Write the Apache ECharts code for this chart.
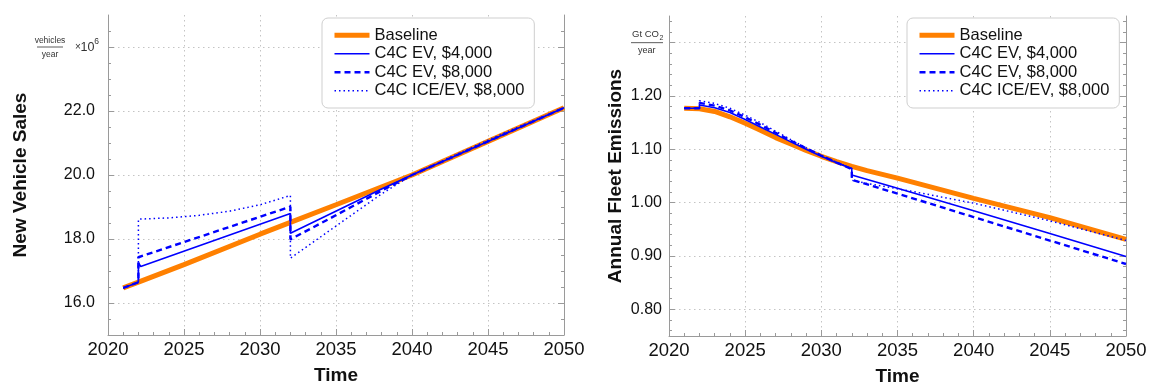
<!DOCTYPE html>
<html>
<head>
<meta charset="utf-8">
<script src="https://cdn.jsdelivr.net/npm/echarts@6/dist/echarts.min.js"></script>
<style>
  html, body { margin: 0; padding: 0; background: #ffffff; }
  #chart { width: 1149px; height: 384px; }
</style>
</head>
<body>
<div id="chart"></div>
<script>
// ---------- data ----------
const seriesNames = ['Baseline', 'C4C EV, $4,000', 'C4C EV, $8,000', 'C4C ICE/EV, $8,000'];

// Time axis
const yearMin = 2020, yearMax = 2050, yearStep = 5;

// New vehicle sales, millions of vehicles per year
const salesBaselineYears = [2021, 2022, 2025, 2030, 2032, 2035, 2040, 2045, 2050];
const salesBaseline      = [16.47, 16.65, 17.20, 18.15, 18.52, 19.07, 20.00, 21.05, 22.10];

const salesEv4Years = [2021, 2022, 2022, 2022.15, 2032, 2032, 2034, 2036, 2038, 2040, 2045, 2050];
const salesEv4      = [16.47, 16.65, 17.26, 17.14, 18.80, 18.18, 18.64, 19.10, 19.56, 20.00, 21.05, 22.10];

const salesEv8Years = [2021, 2022, 2022, 2032, 2032, 2034, 2036, 2038, 2040, 2045, 2050];
const salesEv8      = [16.47, 16.65, 17.43, 19.01, 17.99, 18.49, 19.00, 19.51, 20.00, 21.05, 22.10];

const salesIceEvYears = [2021, 2022, 2022, 2024, 2026, 2028, 2030, 2032, 2032, 2034, 2036, 2038, 2040, 2043, 2046, 2050];
const salesIceEv      = [16.47, 16.65, 18.62, 18.66, 18.74, 18.87, 19.07, 19.36, 17.40, 18.07, 18.74, 19.41, 20.00, 20.66, 21.30, 22.10];

const salesMin = 15, salesMax = 25;
const salesMajorTicks = [16, 18, 20, 22, 24];
const salesTickLabels = [16, 18, 20, 22];
const salesUnitAt = 24;

// Annual fleet emissions, Gt CO2 per year
const emisBaselineYears = [2021, 2022, 2023, 2024, 2025, 2026, 2027, 2028, 2029, 2030, 2031, 2032, 2033, 2035, 2040, 2045, 2050];
const emisBaseline      = [1.177, 1.176, 1.171, 1.161, 1.149, 1.136, 1.122, 1.110, 1.098, 1.087, 1.077, 1.068, 1.060, 1.046, 1.008, 0.972, 0.931];

const emisEv4Years = [2021, 2022, 2022, 2023, 2024, 2025, 2026, 2027, 2028, 2029, 2030, 2031, 2032, 2032, 2035, 2040, 2045, 2050];
const emisEv4      = [1.177, 1.177, 1.183, 1.178, 1.169, 1.156, 1.142, 1.128, 1.114, 1.100, 1.087, 1.075, 1.064, 1.052, 1.027, 0.985, 0.942, 0.899];

const emisEv8Years = [2021, 2022, 2022, 2023, 2024, 2025, 2026, 2027, 2028, 2029, 2030, 2031, 2032, 2032, 2035, 2040, 2045, 2050];
const emisEv8      = [1.177, 1.177, 1.187, 1.182, 1.173, 1.160, 1.146, 1.131, 1.116, 1.102, 1.088, 1.075, 1.063, 1.043, 1.017, 0.973, 0.929, 0.885];

const emisIceEvYears = [2021, 2022, 2022, 2023, 2024, 2025, 2026, 2027, 2028, 2029, 2030, 2031, 2032, 2032, 2033, 2034, 2035, 2036, 2038, 2040, 2045, 2050];
const emisIceEv      = [1.177, 1.177, 1.191, 1.186, 1.177, 1.164, 1.150, 1.134, 1.118, 1.103, 1.089, 1.076, 1.064, 1.042, 1.036, 1.031, 1.026, 1.021, 1.010, 0.999, 0.966, 0.929];

const emisMin = 0.75, emisMax = 1.35;
const emisMajorTicks = [0.8, 0.9, 1.0, 1.1, 1.2, 1.3];
const emisTickLabels = [0.8, 0.9, 1.0, 1.1, 1.2];
const emisUnitAt = 1.3;

// ---------- helpers ----------
const FONT = '"Liberation Sans", Arial, Helvetica, sans-serif';
const AXIS_COLOR = '#9a9a9a';
const TEXT_COLOR = '#111111';
const GRID_COLOR = '#c4c4c4';
const ORANGE = '#ff8000';
const BLUE = '#0000ff';

const pairs = (xs, ys) => xs.map((x, i) => [x, ys[i]]);
const steps = (from, to, step, digits) => {
  const out = [];
  for (let v = from; v <= to + step / 2; v += step) out.push(+v.toFixed(digits));
  return out;
};
const salesMinorTicks = steps(salesMin + 0.5, salesMax - 0.5, 0.5, 1);
const emisMinorTicks = steps(0.76, 1.34, 0.02, 2);

function xAxisFor(gridIndex) {
  return {
    type: 'value', gridIndex, min: yearMin, max: yearMax, interval: yearStep,
    axisLine: { show: true, onZero: false, lineStyle: { color: AXIS_COLOR, width: 1 } },
    axisTick: { show: true, inside: true, length: 6, lineStyle: { color: AXIS_COLOR } },
    minorTick: { show: true, splitNumber: 5, length: 3, lineStyle: { color: AXIS_COLOR } },
    axisLabel: { fontFamily: FONT, fontSize: 18.5, color: TEXT_COLOR, margin: 5, formatter: v => String(v) },
    splitLine: { show: true, lineStyle: { color: GRID_COLOR, type: [1.5, 3.5], width: 1 } },
    name: 'Time', nameLocation: 'middle', nameGap: 31,
    nameTextStyle: { fontFamily: FONT, fontSize: 19, fontWeight: 'bold', color: TEXT_COLOR }
  };
}

// four overlaid value axes per panel: labelled left axis, major ticks + grid,
// and the mirrored frame on the right side
function yAxesFor(gridIndex, min, max, interval, minor, major, labels, digits, name, nameGap, labelMargin) {
  const base = { type: 'value', gridIndex, min, max, interval, axisLabel: { show: false }, splitLine: { show: false } };
  return [
    Object.assign({}, base, {
      position: 'left',
      axisLine: { show: true, onZero: false, lineStyle: { color: AXIS_COLOR, width: 1 } },
      axisTick: { show: true, inside: true, length: 3, customValues: minor, lineStyle: { color: AXIS_COLOR } },
      axisLabel: {
        show: true, customValues: labels, formatter: v => Number(v).toFixed(digits),
        fontFamily: FONT, fontSize: 16, color: TEXT_COLOR, margin: labelMargin
      },
      name, nameLocation: 'middle', nameRotate: 90, nameGap,
      nameTextStyle: { fontFamily: FONT, fontSize: 19, fontWeight: 'bold', color: TEXT_COLOR }
    }),
    Object.assign({}, base, {
      position: 'left',
      axisLine: { show: false, onZero: false },
      axisTick: { show: true, inside: true, length: 6, customValues: major, lineStyle: { color: AXIS_COLOR } },
      splitLine: { show: true, lineStyle: { color: GRID_COLOR, type: [1.5, 3.5], width: 1 } }
    }),
    Object.assign({}, base, {
      position: 'right',
      axisLine: { show: true, onZero: false, lineStyle: { color: AXIS_COLOR, width: 1 } },
      axisTick: { show: true, inside: true, length: 3, customValues: minor, lineStyle: { color: AXIS_COLOR } }
    }),
    Object.assign({}, base, {
      position: 'right',
      axisLine: { show: false, onZero: false },
      axisTick: { show: true, inside: true, length: 6, customValues: major, lineStyle: { color: AXIS_COLOR } }
    })
  ];
}

const lineStyles = [
  { color: ORANGE, width: 5, type: 'solid' },
  { color: BLUE, width: 1.6, type: 'solid' },
  { color: BLUE, width: 2.4, type: [6, 4] },
  { color: BLUE, width: 1.5, type: [1.5, 3] }
];

function seriesFor(xAxisIndex, yAxisIndex, dataSets) {
  return dataSets.map((d, i) => ({
    name: seriesNames[i], type: 'line', xAxisIndex, yAxisIndex,
    data: d, symbol: 'none', showSymbol: false, smooth: false,
    lineStyle: lineStyles[i], itemStyle: { color: lineStyles[i].color },
    emphasis: { disabled: true }, animation: false
  }));
}

function legendAt(left) {
  return {
    orient: 'vertical', left, top: 18,
    data: seriesNames.map((name, i) => ({
      name,
      lineStyle: { color: lineStyles[i].color, width: lineStyles[i].width, type: lineStyles[i].type }
    })),
    itemWidth: 35, itemHeight: 12, itemGap: 0,
    padding: [8, 10, 8, 10],
    backgroundColor: '#ffffff', borderColor: '#cfcfcf', borderWidth: 1, borderRadius: 6,
    // line-only keys, no marker in the middle
    itemStyle: { color: 'transparent', borderWidth: 0, opacity: 0 },
    textStyle: { fontFamily: FONT, fontSize: 16.5, color: TEXT_COLOR, lineHeight: 18.5 },
    selectedMode: false
  };
}

// ---------- chart ----------
const chart = echarts.init(document.getElementById('chart'), null, { renderer: 'canvas' });

chart.setOption({
  animation: false,
  backgroundColor: '#ffffff',
  grid: [
    { left: 108, top: 15, width: 456, height: 320, containLabel: false, outerBoundsMode: 'none' },
    { left: 669, top: 16, width: 457, height: 320, containLabel: false, outerBoundsMode: 'none' }
  ],
  legend: [legendAt(322), legendAt(907)],
  xAxis: [xAxisFor(0), xAxisFor(1)],
  yAxis: [].concat(
    yAxesFor(0, salesMin, salesMax, 1, salesMinorTicks, salesMajorTicks, salesTickLabels, 1, 'New Vehicle Sales', 78, 13),
    yAxesFor(1, emisMin, emisMax, 0.05, emisMinorTicks, emisMajorTicks, emisTickLabels, 2, 'Annual Fleet Emissions', 44, 7)
  ),
  series: [].concat(
    seriesFor(0, 0, [
      pairs(salesBaselineYears, salesBaseline),
      pairs(salesEv4Years, salesEv4),
      pairs(salesEv8Years, salesEv8),
      pairs(salesIceEvYears, salesIceEv)
    ]),
    seriesFor(1, 4, [
      pairs(emisBaselineYears, emisBaseline),
      pairs(emisEv4Years, emisEv4),
      pairs(emisEv8Years, emisEv8),
      pairs(emisIceEvYears, emisIceEv)
    ])
  )
});

// unit labels placed at the top gridline of each panel
const unitColor = '#333333';
const [sx, sy] = chart.convertToPixel({ xAxisIndex: 0, yAxisIndex: 0 }, [yearMin, salesUnitAt]);
const [ex, ey] = chart.convertToPixel({ xAxisIndex: 1, yAxisIndex: 4 }, [yearMin, emisUnitAt]);
const txt = (x, y, text, size, align) => ({
  type: 'text', x, y, silent: true,
  style: { text, fontFamily: FONT, fontSize: size, fill: unitColor, align: align || 'center', verticalAlign: 'middle' }
});
const rule = (x1, x2, y) => ({
  type: 'line', silent: true, shape: { x1, y1: y, x2, y2: y },
  style: { stroke: unitColor, lineWidth: 0.8 }
});

chart.setOption({
  graphic: [
    txt(sx - 58, sy - 6.5, 'vehicles', 8.5),
    rule(sx - 71, sx - 45, sy),
    txt(sx - 58, sy + 7.5, 'year', 8.5),
    txt(sx - 30, sy + 0.5, '\u00d7', 10),
    txt(sx - 20.5, sy + 0.5, '10', 12.5),
    txt(sx - 11.5, sy - 5.5, '6', 8.5),

    txt(ex - 10, ey - 8, 'Gt CO', 9.5, 'right'),
    txt(ex - 9.5, ey - 4.8, '2', 7, 'left'),
    rule(ex - 38, ex - 6, ey),
    txt(ex - 22.3, ey + 8, 'year', 9)
  ]
});
</script>
</body>
</html>
